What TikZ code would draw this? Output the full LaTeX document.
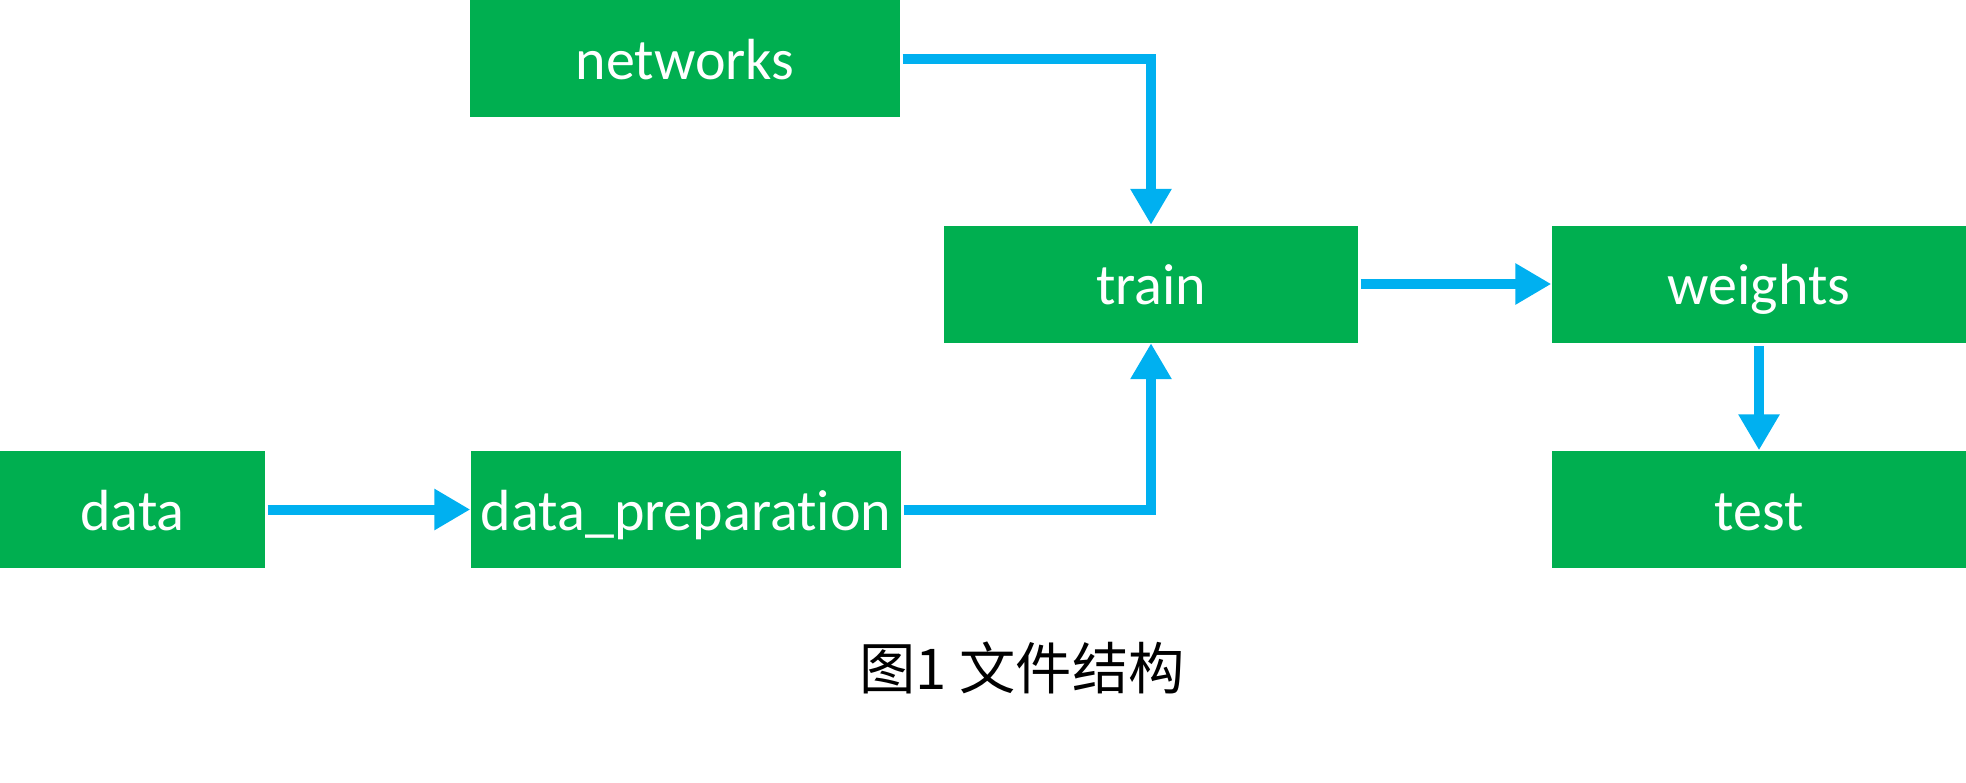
\documentclass[tikz,border=0pt]{standalone}
\usepackage{fontspec}
\setmainfont{Carlito}[RawFeature={-liga;-calt;-clig;-dlig}]
\newfontfamily\cjk{Noto Sans CJK SC}
\usetikzlibrary{arrows.meta}
\definecolor{boxgreen}{HTML}{00AF50}
\definecolor{arrowblue}{HTML}{00B0F0}
\tikzset{
  caja/.style={rectangle, fill=boxgreen, text=white, inner sep=0pt,
    minimum height=1.17cm, text height=0.41cm, text depth=0cm,
    font=\fontsize{16.5}{18}\selectfont},
  flecha/.style={draw=arrowblue, line width=0.1cm, line join=miter,
    -{Triangle[width=0.39cm,length=0.36cm]}, arrowblue}
}
\begin{document}
\begin{tikzpicture}
%
\useasboundingbox (0,0) rectangle (19.66,-7.82);
%
% cajas
\node[caja, minimum width=4.30cm] (networks) at (6.85,-0.585) {networks};
\node[caja, minimum width=4.14cm] (train) at (11.51,-2.84) {train};
\node[caja, minimum width=4.14cm] (weights) at (17.59,-2.84) {weights};
\node[caja, minimum width=4.14cm] (test) at (17.59,-5.095) {test};
\node[caja, minimum width=2.65cm] (data) at (1.325,-5.095) {data};
\node[caja, minimum width=4.30cm] (dataprep) at (6.86,-5.095) {data\_preparation};
%
% titulo
\node[font=\cjk\fontsize{16}{18}\selectfont] (titulo) at (10.22,-6.68) {图1 文件结构};
%
% flechas
\draw[flecha] ([xshift=0.02cm]networks.east) -| (train.north);
\draw[flecha] ([xshift=0.02cm]dataprep.east) -| (train.south);
\draw[flecha] ([xshift=0.02cm]data.east) to (dataprep.west);
\draw[flecha] ([xshift=0.02cm]train.east) to (weights.west);
\draw[flecha] ([yshift=-0.03cm]weights.south) to (test.north);
%
\end{tikzpicture}
\end{document}
